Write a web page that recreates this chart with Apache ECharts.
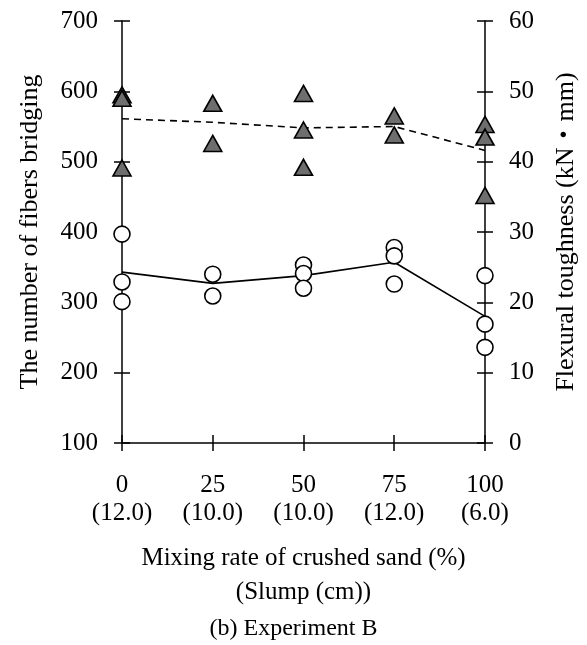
<!DOCTYPE html>
<html><head><meta charset="utf-8">
<script src="https://cdn.jsdelivr.net/npm/echarts@6/dist/echarts.min.js"></script>
<style>html,body{margin:0;padding:0;background:#fff}#c{width:587px;height:645px}</style>
</head><body><div id="c"></div>
<script>
const xTicks = [0, 25, 50, 75, 100];
const slumpLabels = ['(12.0)', '(10.0)', '(10.0)', '(12.0)', '(6.0)'];
const leftTicks = [100, 200, 300, 400, 500, 600, 700];
const rightTicks = [0, 10, 20, 30, 40, 50, 60];

const fiberX = [0, 0, 0, 25, 25, 50, 50, 50, 75, 75, 75, 100, 100, 100];
const fiberVals = [397, 329, 301, 340, 309, 353, 341, 320, 378, 366, 326, 338, 269, 236];
const fiberMean = [343, 327, 338, 357, 280];

const toughX = [0, 0, 0, 25, 25, 50, 50, 50, 75, 75, 100, 100, 100];
const toughVals = [49.5, 49.0, 39.1, 48.3, 42.6, 49.7, 44.5, 39.2, 46.5, 43.8, 45.3, 43.5, 35.2];
const toughMean = [46.1, 45.6, 44.8, 45.0, 41.6];

const FONT = "'Liberation Serif','Times New Roman','Noto Sans CJK JP',serif";
const tickLen = 8;
const lineStyle = { color: '#000', width: 1.5 };
const noZeroLine = { show: true, onZero: false, lineStyle };

const chart = echarts.init(document.getElementById('c'), null, { renderer: 'canvas' });

const xBase = { type: 'value', min: 0, max: 100, interval: 25, splitLine: { show: false } };
const yL = { type: 'value', min: 100, max: 700, interval: 100, splitLine: { show: false } };
const yR = { type: 'value', min: 0, max: 60, interval: 10, splitLine: { show: false } };

chart.setOption({
  animation: false,
  backgroundColor: '#fff',
  textStyle: { fontFamily: FONT, color: '#000' },
  grid: { left: 122, right: 101, top: 21, bottom: 202, containLabel: false },
  title: {
    text: '(b) Experiment B', left: 'center', top: 612,
    textStyle: { fontFamily: FONT, fontSize: 24, fontWeight: 'normal', color: '#000' }
  },
  xAxis: [
    Object.assign({}, xBase, {
      position: 'bottom',
      axisLine: noZeroLine,
      axisTick: { show: true, inside: true, length: tickLen, lineStyle },
      axisLabel: {
        show: true, margin: 28, fontFamily: FONT, fontSize: 25, color: '#000', lineHeight: 28,
        formatter: v => { const i = xTicks.indexOf(v); return v + '\n' + (i >= 0 ? slumpLabels[i] : ''); }
      },
      name: 'Mixing rate of crushed sand (%)\n(Slump (cm))',
      nameLocation: 'middle', nameGap: 98,
      nameTextStyle: { fontFamily: FONT, fontSize: 25, color: '#000', lineHeight: 34 }
    }),
    Object.assign({}, xBase, {
      position: 'bottom', offset: 0,
      axisLine: { show: false, onZero: false },
      axisTick: { show: true, inside: false, length: tickLen, lineStyle },
      axisLabel: { show: false }
    })
  ],
  yAxis: [
    Object.assign({}, yL, {
      position: 'left',
      axisLine: noZeroLine,
      axisTick: { show: true, inside: true, length: tickLen, lineStyle },
      axisLabel: { show: true, margin: 24, fontFamily: FONT, fontSize: 25, color: '#000',
        formatter: v => leftTicks.includes(v) ? String(v) : '' },
      name: 'The number of fibers bridging', nameLocation: 'middle', nameGap: 79, nameRotate: 90,
      nameTextStyle: { fontFamily: FONT, fontSize: 26, color: '#000' }
    }),
    Object.assign({}, yR, {
      position: 'right',
      axisLine: noZeroLine,
      axisTick: { show: true, inside: true, length: tickLen, lineStyle },
      axisLabel: { show: true, margin: 24, fontFamily: FONT, fontSize: 25, color: '#000',
        formatter: v => rightTicks.includes(v) ? String(v) : '' },
      name: 'Flexural toughness (kN・mm)', nameLocation: 'middle', nameGap: 68, nameRotate: 90,
      nameTextStyle: { fontFamily: FONT, fontSize: 26, color: '#000' }
    }),
    Object.assign({}, yL, {
      position: 'left', offset: 0,
      axisLine: { show: false, onZero: false },
      axisTick: { show: true, inside: false, length: tickLen, lineStyle },
      axisLabel: { show: false }
    }),
    Object.assign({}, yR, {
      position: 'right', offset: 0,
      axisLine: { show: false, onZero: false },
      axisTick: { show: true, inside: false, length: tickLen, lineStyle },
      axisLabel: { show: false }
    })
  ],
  series: [
    {
      type: 'line', xAxisIndex: 0, yAxisIndex: 0, z: 2,
      data: xTicks.map((x, i) => [x, fiberMean[i]]),
      showSymbol: false, symbol: 'none',
      lineStyle: { color: '#000', width: 1.6, type: 'solid' }
    },
    {
      type: 'line', xAxisIndex: 0, yAxisIndex: 1, z: 2,
      data: xTicks.map((x, i) => [x, toughMean[i]]),
      showSymbol: false, symbol: 'none',
      lineStyle: { color: '#000', width: 1.6, type: [7, 5] }
    },
    {
      type: 'scatter', xAxisIndex: 0, yAxisIndex: 0, z: 5,
      data: fiberX.map((x, i) => [x, fiberVals[i]]),
      symbol: 'circle', symbolSize: 16,
      itemStyle: { color: '#fff', borderColor: '#000', borderWidth: 1.6, opacity: 1 }
    },
    {
      type: 'scatter', xAxisIndex: 0, yAxisIndex: 1, z: 5,
      data: toughX.map((x, i) => [x, toughVals[i]]),
      symbol: 'triangle', symbolSize: [18, 16],
      itemStyle: { color: '#6e6e6e', borderColor: '#000', borderWidth: 1.6, opacity: 1 }
    }
  ]
});
</script></body></html>
